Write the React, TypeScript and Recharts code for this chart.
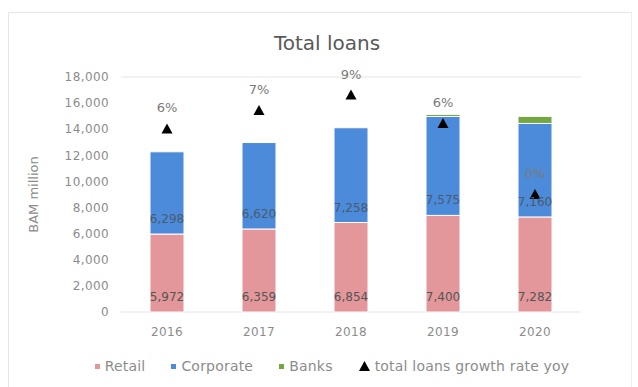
import {
  ComposedChart,
  Bar,
  Line,
  XAxis,
  YAxis,
  CartesianGrid,
  LabelList,
} from "recharts";

const years = ["2016", "2017", "2018", "2019", "2020"];
const retail = [5972, 6359, 6854, 7400, 7282];
const corporate = [6298, 6620, 7258, 7575, 7160];
const banks = [0, 0, 0, 160, 540];
const growthPct = [5.7, 7.4, 8.8, 6.2, -0.3];
const yTicks = [0, 2000, 4000, 6000, 8000, 10000, 12000, 14000, 16000, 18000];

const COLORS = {
  retail: "#e3979a",
  corporate: "#4b8bd9",
  banks: "#72a83f",
  growth: "#000000",
};

const FONT = "'DejaVu Sans', sans-serif";
const GRAY = "#8c8c8c";

const rows = years.map((year, i) => ({
  year,
  retail: retail[i],
  corporate: corporate[i],
  banks: banks[i],
  growth: growthPct[i],
}));

const fmtNum = (v: number) => (v ? v.toLocaleString("en-US") : "");
const fmtPct = (v: number) => `${Math.round(v) || 0}%`;

function Triangle(props: any) {
  const { cx, cy } = props;
  if (cx == null || cy == null) return null;
  return (
    <polygon
      points={`${cx},${cy - 6} ${cx - 5.5},${cy + 4} ${cx + 5.5},${cy + 4}`}
      fill={COLORS.growth}
    />
  );
}

const legendItems = [
  { name: "Retail", color: COLORS.retail, tri: false },
  { name: "Corporate", color: COLORS.corporate, tri: false },
  { name: "Banks", color: COLORS.banks, tri: false },
  { name: "total loans growth rate yoy", color: COLORS.growth, tri: true },
];

export default function App() {
  return (
    <div
      style={{
        position: "absolute",
        left: 8,
        top: 12,
        width: 622,
        height: 376,
        borderTop: "1px solid #e6e6e6",
        borderLeft: "1px solid #e6e6e6",
        borderRight: "1px solid #eeeeee",
        background: "#fff",
        fontFamily: FONT,
      }}
    >
      <div
        style={{
          position: "absolute",
          left: 0,
          width: 636,
          top: 18,
          textAlign: "center",
          fontSize: 20,
          color: "#595959",
        }}
      >
        Total loans
      </div>
      <ComposedChart
        width={622}
        height={374}
        data={rows}
        margin={{ top: 64, right: 50, bottom: 45, left: 0 }}
        style={{ fontFamily: FONT }}
      >
        <CartesianGrid vertical={false} stroke="#e4e4e4" />
        <XAxis
          dataKey="year"
          axisLine={false}
          tickLine={false}
          tickSize={0}
          tickMargin={15}
          tick={{ fill: GRAY, fontSize: 12, letterSpacing: 0.4 }}
        />
        <YAxis
          yAxisId="left"
          width={112}
          domain={[0, 18000]}
          ticks={yTicks}
          axisLine={false}
          tickLine={false}
          tickSize={0}
          tickMargin={12}
          tickFormatter={(v: number) => v.toLocaleString("en-US")}
          tick={{ fill: GRAY, fontSize: 12, letterSpacing: 0.4 }}
          label={{
            value: "BAM million",
            angle: -90,
            position: "insideLeft",
            offset: 24,
            style: { textAnchor: "middle", fill: GRAY, fontSize: 13 },
          }}
        />
        <YAxis yAxisId="right" orientation="right" hide domain={[-11, 10.5]} />
        <Bar
          yAxisId="left"
          dataKey="retail"
          stackId="a"
          fill={COLORS.retail}
          stroke="#fff"
          strokeWidth={1}
          barSize={34}
          isAnimationActive={false}
        >
          <LabelList
            dataKey="retail"
            position="insideBottom"
            offset={11}
            formatter={fmtNum}
            style={{ fill: "#555", fontSize: 12 }}
          />
        </Bar>
        <Bar
          yAxisId="left"
          dataKey="corporate"
          stackId="a"
          fill={COLORS.corporate}
          stroke="#fff"
          strokeWidth={1}
          barSize={34}
          isAnimationActive={false}
        >
          <LabelList
            dataKey="corporate"
            position="insideBottom"
            offset={11}
            formatter={fmtNum}
            style={{ fill: "#4a5a70", fontSize: 12 }}
          />
        </Bar>
        <Bar
          yAxisId="left"
          dataKey="banks"
          stackId="a"
          fill={COLORS.banks}
          stroke="#fff"
          strokeWidth={1}
          barSize={34}
          isAnimationActive={false}
        />
        <Line
          yAxisId="right"
          dataKey="growth"
          stroke="none"
          dot={<Triangle />}
          activeDot={false}
          isAnimationActive={false}
        >
          <LabelList
            dataKey="growth"
            position="top"
            offset={17}
            formatter={fmtPct}
            style={{ fill: "#7a7a7a", fontSize: 13 }}
          />
        </Line>
      </ComposedChart>
      <div
        style={{
          position: "absolute",
          left: 0,
          width: 646,
          top: 345,
          display: "flex",
          justifyContent: "center",
          gap: 26,
          fontSize: 14,
          letterSpacing: 0.2,
          color: GRAY,
        }}
      >
        {legendItems.map((it) => (
          <div key={it.name} style={{ display: "flex", alignItems: "center", gap: 5 }}>
            {it.tri ? (
              <svg width={11} height={10}>
                <polygon points="5.5,0 0,10 11,10" fill={it.color} />
              </svg>
            ) : (
              <span style={{ display: "inline-block", width: 5, height: 5, background: it.color }} />
            )}
            <span>{it.name}</span>
          </div>
        ))}
      </div>
    </div>
  );
}
